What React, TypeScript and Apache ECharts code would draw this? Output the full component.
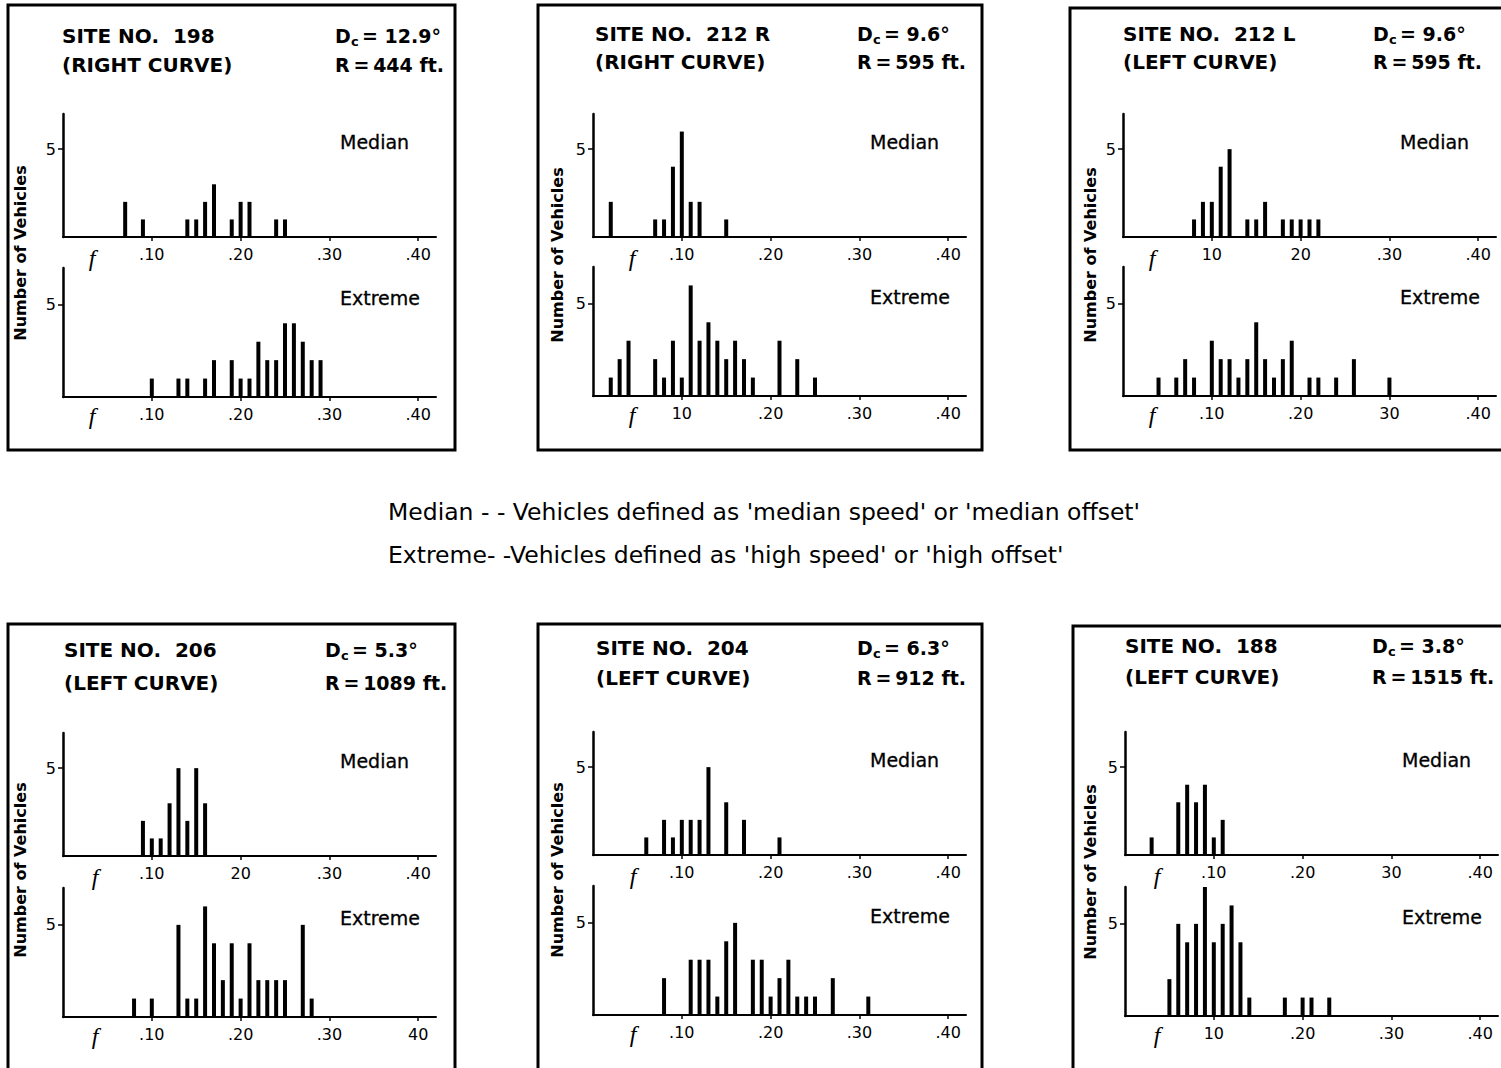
import React, { useEffect, useRef } from 'react';
import * as echarts from 'echarts';

// ---- data: [friction factor f, number of vehicles] ----
const site198Median = [[0.07, 2], [0.09, 1], [0.14, 1], [0.15, 1], [0.16, 2], [0.17, 3], [0.19, 1], [0.20, 2], [0.21, 2], [0.24, 1], [0.25, 1]];
const site198Extreme = [[0.10, 1], [0.13, 1], [0.14, 1], [0.16, 1], [0.17, 2], [0.19, 2], [0.20, 1], [0.21, 1], [0.22, 3], [0.23, 2], [0.24, 2], [0.25, 4], [0.26, 4], [0.27, 3], [0.28, 2], [0.29, 2]];
const site212RMedian = [[0.02, 2], [0.07, 1], [0.08, 1], [0.09, 4], [0.10, 6], [0.11, 2], [0.12, 2], [0.15, 1]];
const site212RExtreme = [[0.02, 1], [0.03, 2], [0.04, 3], [0.07, 2], [0.08, 1], [0.09, 3], [0.10, 1], [0.11, 6], [0.12, 3], [0.13, 4], [0.14, 3], [0.15, 2], [0.16, 3], [0.17, 2], [0.18, 1], [0.21, 3], [0.23, 2], [0.25, 1]];
const site212LMedian = [[0.08, 1], [0.09, 2], [0.10, 2], [0.11, 4], [0.12, 5], [0.14, 1], [0.15, 1], [0.16, 2], [0.18, 1], [0.19, 1], [0.20, 1], [0.21, 1], [0.22, 1]];
const site212LExtreme = [[0.04, 1], [0.06, 1], [0.07, 2], [0.08, 1], [0.10, 3], [0.11, 2], [0.12, 2], [0.13, 1], [0.14, 2], [0.15, 4], [0.16, 2], [0.17, 1], [0.18, 2], [0.19, 3], [0.21, 1], [0.22, 1], [0.24, 1], [0.26, 2], [0.30, 1]];
const site206Median = [[0.09, 2], [0.10, 1], [0.11, 1], [0.12, 3], [0.13, 5], [0.14, 2], [0.15, 5], [0.16, 3]];
const site206Extreme = [[0.08, 1], [0.10, 1], [0.13, 5], [0.14, 1], [0.15, 1], [0.16, 6], [0.17, 4], [0.18, 2], [0.19, 4], [0.20, 1], [0.21, 4], [0.22, 2], [0.23, 2], [0.24, 2], [0.25, 2], [0.27, 5], [0.28, 1]];
const site204Median = [[0.06, 1], [0.08, 2], [0.09, 1], [0.10, 2], [0.11, 2], [0.12, 2], [0.13, 5], [0.15, 3], [0.17, 2], [0.21, 1]];
const site204Extreme = [[0.08, 2], [0.11, 3], [0.12, 3], [0.13, 3], [0.14, 1], [0.15, 4], [0.16, 5], [0.18, 3], [0.19, 3], [0.20, 1], [0.21, 2], [0.22, 3], [0.23, 1], [0.24, 1], [0.25, 1], [0.27, 2], [0.31, 1]];
const site188Median = [[0.03, 1], [0.06, 3], [0.07, 4], [0.08, 3], [0.09, 4], [0.10, 1], [0.11, 2]];
const site188Extreme = [[0.05, 2], [0.06, 5], [0.07, 4], [0.08, 5], [0.09, 7], [0.10, 4], [0.11, 5], [0.12, 6], [0.13, 4], [0.14, 1], [0.18, 1], [0.20, 1], [0.21, 1], [0.23, 1]];

// tick labels as printed on each axis
const ticks198Median = ['.10', '.20', '.30', '.40'];
const ticks198Extreme = ['.10', '.20', '.30', '.40'];
const ticks212RMedian = ['.10', '.20', '.30', '.40'];
const ticks212RExtreme = ['10', '.20', '.30', '.40'];
const ticks212LMedian = ['10', '20', '.30', '.40'];
const ticks212LExtreme = ['.10', '.20', '30', '.40'];
const ticks206Median = ['.10', '20', '.30', '.40'];
const ticks206Extreme = ['.10', '.20', '.30', '40'];
const ticks204Median = ['.10', '.20', '.30', '.40'];
const ticks204Extreme = ['.10', '.20', '.30', '.40'];
const ticks188Median = ['.10', '.20', '30', '.40'];
const ticks188Extreme = ['10', '.20', '.30', '.40'];

const siteTitles = ['SITE NO.  198', 'SITE NO.  212 R', 'SITE NO.  212 L', 'SITE NO.  206', 'SITE NO.  204', 'SITE NO.  188'];
const curveLabels = ['(RIGHT CURVE)', '(RIGHT CURVE)', '(LEFT CURVE)', '(LEFT CURVE)', '(LEFT CURVE)', '(LEFT CURVE)'];
const degreeValues = ['12.9°', '9.6°', '9.6°', '5.3°', '6.3°', '3.8°'];
const radiusLabels = ['R\u2009=\u2009444 ft.', 'R\u2009=\u2009595 ft.', 'R\u2009=\u2009595 ft.', 'R\u2009=\u20091089 ft.', 'R\u2009=\u2009912 ft.', 'R\u2009=\u20091515 ft.'];

const medianSets = [site198Median, site212RMedian, site212LMedian, site206Median, site204Median, site188Median];
const extremeSets = [site198Extreme, site212RExtreme, site212LExtreme, site206Extreme, site204Extreme, site188Extreme];
const medianTicks = [ticks198Median, ticks212RMedian, ticks212LMedian, ticks206Median, ticks204Median, ticks188Median];
const extremeTicks = [ticks198Extreme, ticks212RExtreme, ticks212LExtreme, ticks206Extreme, ticks204Extreme, ticks188Extreme];

// ---- layout (pixels) ----
const layout = [
  { box: [8, 5, 447, 445], x0: 63, med: 237, ext: 397, tx: 62, ty: 36, ty2: 65, dx: 335, fx: 29, nv: [20, 253] },
  { box: [538, 5, 444, 445], x0: 593, med: 237, ext: 396, tx: 595, ty: 34, ty2: 62, dx: 857, fx: 39, nv: [557, 255] },
  { box: [1070, 8, 460, 442], x0: 1123, med: 237, ext: 396, tx: 1123, ty: 34, ty2: 62, dx: 1373, fx: 29, nv: [1090, 255] },
  { box: [8, 624, 447, 470], x0: 63, med: 856, ext: 1017, tx: 64, ty: 650, ty2: 683, dx: 325, fx: 32, nv: [20, 870] },
  { box: [538, 624, 444, 470], x0: 593, med: 855, ext: 1015, tx: 596, ty: 648, ty2: 678, dx: 857, fx: 40, nv: [557, 870] },
  { box: [1073, 626, 460, 470], x0: 1125, med: 855, ext: 1016, tx: 1125, ty: 646, ty2: 677, dx: 1372, fx: 32, nv: [1090, 872] },
];

const FONT = '"DejaVu Sans", "Liberation Sans", Arial, sans-serif';
const X_MAX = 0.42;
const X_PX = 373;

function buildOption() {
  const grid: any[] = [];
  const xAxis: any[] = [];
  const yAxis: any[] = [];
  const series: any[] = [];
  const graphic: any[] = [];

  const addChart = (left: number, base: number, height: number, data: number[][], labels: string[]) => {
    const idx = grid.length;
    grid.push({ left, top: base - height, width: X_PX, height });
    xAxis.push({
      type: 'value', gridIndex: idx, min: 0, max: X_MAX,
      axisLine: { show: true, onZero: false, lineStyle: { color: '#000', width: 2 } },
      axisTick: { show: true, length: 4, customValues: [0.1, 0.2, 0.3, 0.4], lineStyle: { color: '#000', width: 1.5 } },
      axisLabel: {
        customValues: [0.1, 0.2, 0.3, 0.4],
        formatter: (v: number) => labels[Math.round(v * 10) - 1] || '',
        color: '#000', fontSize: 16, fontFamily: FONT, margin: 9,
      },
      splitLine: { show: false },
    });
    yAxis.push({
      type: 'value', gridIndex: idx, min: 0, max: 7,
      axisLine: { show: true, lineStyle: { color: '#000', width: 2.5 } },
      axisTick: { show: true, length: 5, customValues: [5], lineStyle: { color: '#000', width: 1.5 } },
      axisLabel: {
        customValues: [5],
        formatter: (v: number) => (v === 5 ? '5' : ''),
        color: '#000', fontSize: 16, fontFamily: FONT, margin: 7,
      },
      splitLine: { show: false },
    });
    series.push({
      type: 'bar', xAxisIndex: idx, yAxisIndex: idx, data, barWidth: 4,
      itemStyle: { color: '#000' }, silent: true,
    });
  };

  layout.forEach((L, i) => {
    addChart(L.x0, L.med, 123, medianSets[i], medianTicks[i]);
    addChart(L.x0, L.ext, 129, extremeSets[i], extremeTicks[i]);

    const [bx, by, bw, bh] = L.box;
    graphic.push({ type: 'rect', shape: { x: bx, y: by, width: bw, height: bh }, style: { fill: 'none', stroke: '#000', lineWidth: 3 }, silent: true });
    const hdrL = { fill: '#000', font: `bold 20px ${FONT}`, verticalAlign: 'middle' };
    const hdr = { fill: '#000', font: `bold 19px ${FONT}`, verticalAlign: 'middle' };
    graphic.push({ type: 'text', x: L.tx, y: L.ty, style: { ...hdrL, text: siteTitles[i] } });
    graphic.push({ type: 'text', x: L.tx, y: L.ty2, style: { ...hdrL, text: curveLabels[i] } });
    graphic.push({ type: 'text', x: L.dx, y: L.ty, style: { ...hdr, text: 'D' } });
    graphic.push({ type: 'text', x: L.dx + 16, y: L.ty + 5, style: { ...hdr, font: `bold 13px ${FONT}`, text: 'c' } });
    graphic.push({ type: 'text', x: L.dx + 27, y: L.ty, style: { ...hdr, text: '= ' + degreeValues[i] } });
    graphic.push({ type: 'text', x: L.dx, y: L.ty2, style: { ...hdr, text: radiusLabels[i] } });

    graphic.push({
      type: 'text', x: L.nv[0], y: L.nv[1], rotation: Math.PI / 2,
      style: { text: 'Number of Vehicles', fill: '#000', font: `bold 16px ${FONT}`, align: 'center', verticalAlign: 'middle' },
    });
    const lbl = { fill: '#000', font: `19px ${FONT}`, verticalAlign: 'middle', stroke: '#000', lineWidth: 0.3 };
    graphic.push({ type: 'text', x: L.x0 + 277, y: L.med - 95, style: { ...lbl, text: 'Median' } });
    graphic.push({ type: 'text', x: L.x0 + 277, y: L.ext - 99, style: { ...lbl, text: 'Extreme' } });
    const fStyle = { fill: '#000', font: `italic 24px "Liberation Serif", "DejaVu Serif", serif`, align: 'center', verticalAlign: 'middle', text: 'f' };
    graphic.push({ type: 'text', x: L.x0 + L.fx, y: L.med + 21, style: fStyle });
    graphic.push({ type: 'text', x: L.x0 + L.fx, y: L.ext + 19, style: fStyle });
  });

  const legendStyle = { fill: '#000', font: `23.5px ${FONT}`, verticalAlign: 'middle' };
  graphic.push({ type: 'text', x: 388, y: 512, style: { ...legendStyle, text: "Median - - Vehicles defined as 'median speed' or 'median offset'" } });
  graphic.push({ type: 'text', x: 388, y: 555, style: { ...legendStyle, text: "Extreme- -Vehicles defined as 'high speed' or 'high offset'" } });

  return { animation: false, backgroundColor: '#fff', grid, xAxis, yAxis, series, graphic };
}

export default function App() {
  const ref = useRef<HTMLDivElement>(null);
  useEffect(() => {
    const chart = echarts.init(ref.current!, null, { renderer: 'svg' });
    chart.setOption(buildOption());
    return () => chart.dispose();
  }, []);
  return (
    <div
      ref={ref}
      style={{ position: 'absolute', left: 0, top: 0, width: 1501, height: 1068, background: '#fff', overflow: 'hidden' }}
    />
  );
}
